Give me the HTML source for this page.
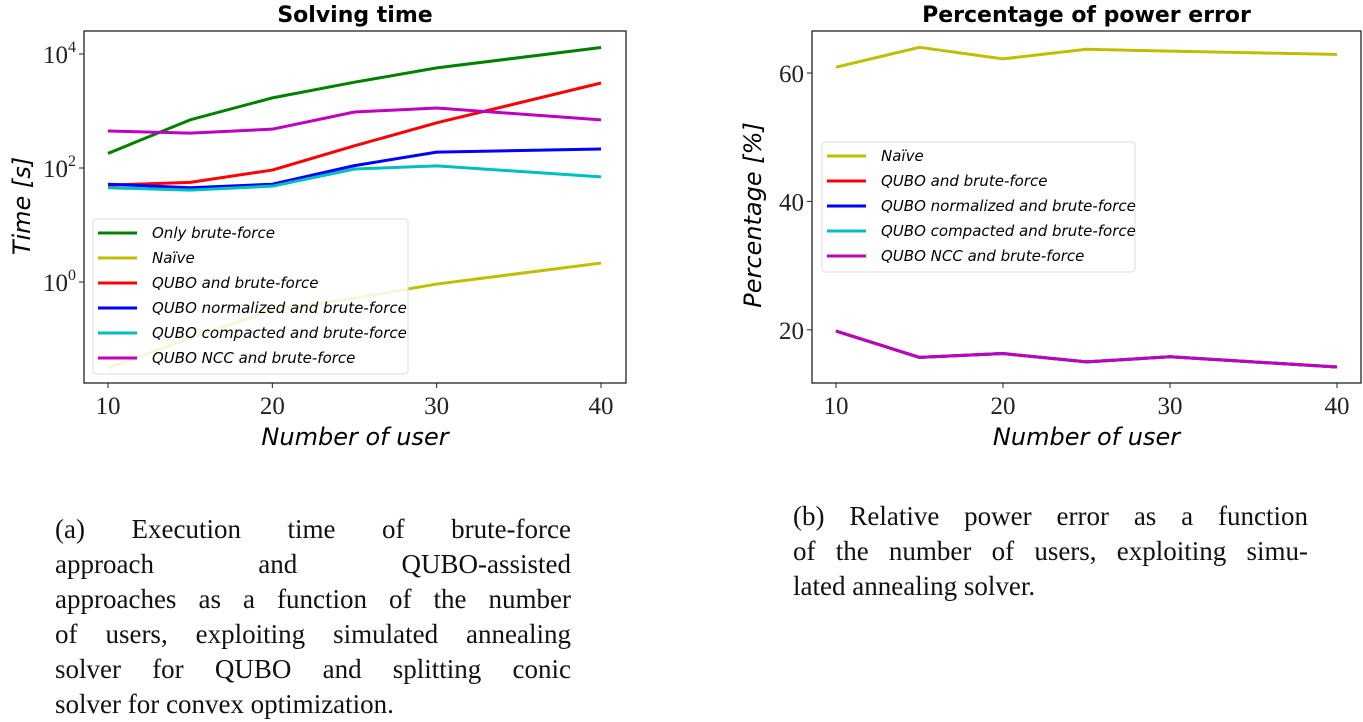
<!DOCTYPE html>
<html><head><meta charset="utf-8">
<style>
body{margin:0;background:#fff;width:1363px;height:722px;overflow:hidden;position:relative;font-family:"Liberation Serif",serif}
svg{position:absolute;left:0;top:0}
.cap{position:absolute;font-family:"Liberation Serif",serif;font-size:27px;color:#111;line-height:35px}
.cap div{text-align:justify;text-align-last:justify;white-space:nowrap;height:35px}
.cap div.last{text-align-last:left}
</style></head><body>
<svg id="svg" width="1363" height="722"></svg>
<div class="cap" style="left:55px;top:512px;width:516px">
<div>(a) Execution time of brute-force</div>
<div>approach and QUBO-assisted</div>
<div>approaches as a function of the number</div>
<div>of users, exploiting simulated annealing</div>
<div>solver for QUBO and splitting conic</div>
<div class="last">solver for convex optimization.</div>
</div>
<div class="cap" style="left:793px;top:499px;width:515px">
<div>(b) Relative power error as a function</div>
<div>of the number of users, exploiting simu-</div>
<div class="last">lated annealing solver.</div>
</div>
<script>
const users=[10,15,20,25,30,40];
const onlyBrute=[180,700,1700,3200,5700,13000];
const naiveTime=[0.031,0.104,0.32,0.52,0.92,2.15];
const quboTime=[50,56,92,245,620,3100];
const quboNormTime=[52,45,52,110,190,215];
const quboCompTime=[45,41,48,96,109,70];
const quboNccTime=[445,410,480,960,1130,700];
const naivePct=[60.9,64.0,62.2,63.7,63.4,62.9];
const quboPct=[19.8,15.7,16.3,15.0,15.8,14.2];
const quboNormPct=[19.8,15.7,16.3,15.0,15.8,14.2];
const quboCompPct=[19.8,15.7,16.3,15.0,15.8,14.2];
const quboNccPct=[19.8,15.7,16.3,15.0,15.8,14.2];
const xTicks=[10,20,30,40];
const logTicks=[0,2,4];
const pctTicks=[20,40,60];

const NS="http://www.w3.org/2000/svg";
const svg=document.getElementById('svg');
function mk(tag,attrs,parent,text){const e=document.createElementNS(NS,tag);for(const k in attrs)e.setAttribute(k,attrs[k]);if(text!==undefined)e.textContent=text;(parent||svg).appendChild(e);return e;}
const C={g:'#008000',y:'#bfbf00',r:'#ff0000',b:'#0000ff',c:'#00bfbf',m:'#bf00bf'};

function chart(o){
  const g=mk('g',{});
  
  
  const X=v=>o.x0+(v-10)/30*(o.x1-o.x0);
  const Y=o.Y;
  o.series.forEach(s=>{
    const p=mk('polyline',{points:users.map((u,i)=>X(u)+','+Y(s.v[i])).join(' '),fill:'none',stroke:s.c,'stroke-width':3,'stroke-linejoin':'round'},g);
    
    
  });
  const f=mk('rect',{x:o.bx0,y:o.by0,width:o.bx1-o.bx0,height:o.by1-o.by0,fill:'none',stroke:'#222','stroke-width':1.3},g);
  
  
  xTicks.forEach(t=>{
    mk('line',{x1:X(t),x2:X(t),y1:o.by1,y2:o.by1+5,stroke:'#222'},g);
    const l=mk('text',{x:X(t),y:o.by1+31,'text-anchor':'middle','font-size':25,'font-family':'Liberation Serif, serif',fill:'#222'},g,t);
    
    
  });
  o.yt.forEach(t=>{
    const y=o.tickY(t);
    mk('line',{x1:o.bx0-5,x2:o.bx0,y1:y,y2:y,stroke:'#222'},g);
    const l=mk('text',{x:o.bx0-8,y:y+9,'text-anchor':'end','font-size':25,'font-family':'Liberation Serif, serif',fill:'#222'},g);
    
    
    if(o.log){l.textContent='10';mk('tspan',{dy:-11,'font-size':16},l,t);}else l.textContent=t;
  });
  const ti=mk('text',{x:(o.bx0+o.bx1)/2,y:22,'text-anchor':'middle','font-size':22,'font-weight':'bold','font-family':'DejaVu Sans, sans-serif',fill:'#000'},g,o.title);
  
  
  const xl=mk('text',{x:(o.bx0+o.bx1)/2,y:445,'text-anchor':'middle','font-size':24,'font-style':'italic','font-family':'DejaVu Sans, sans-serif',fill:'#000'},g,'Number of user');
  
  
  const yl=mk('text',{x:0,y:0,transform:`translate(${o.ylx},${o.yly}) rotate(-90)`,'text-anchor':'middle','font-size':24,'font-style':'italic','font-family':'DejaVu Sans, sans-serif',fill:'#000'},g,o.ytitle);
  
  
  const L=o.leg;
  const lg=mk('g',{},g);
  
  
  mk('rect',{x:L.x0,y:L.y0,width:L.x1-L.x0,height:L.y1-L.y0,rx:3,fill:'#fff','fill-opacity':0.85,stroke:'#ddd'},lg);
  o.series.forEach((s,i)=>{
    const y=L.ey+i*25;
    const e=mk('g',{},lg);
    
    
    mk('line',{x1:L.x0+5,x2:L.x0+44,y1:y,y2:y,stroke:s.c,'stroke-width':3},e);
    mk('text',{x:L.x0+59,y:y+5,'font-size':15,'font-style':'italic','font-family':'DejaVu Sans, sans-serif',fill:'#000'},e,s.label);
  });
}
const logY=v=>282-57*Math.log10(v);
chart({name:'solving-time-chart',x0:108,x1:601,bx0:84,bx1:626,by0:31,by1:383,Y:logY,tickY:t=>282-57*t,log:true,yt:logTicks,
 title:'Solving time',ytitle:'Time [s]',ylx:30,yly:206,
 leg:{x0:93,x1:408,y0:219,y1:374,ey:233},
 series:[{id:'only-brute-force',c:C.g,v:onlyBrute,label:'Only brute-force'},
 {id:'naive',c:C.y,v:naiveTime,label:'Naïve'},
 {id:'qubo',c:C.r,v:quboTime,label:'QUBO and brute-force'},
 {id:'qubo-normalized',c:C.b,v:quboNormTime,label:'QUBO normalized and brute-force'},
 {id:'qubo-compacted',c:C.c,v:quboCompTime,label:'QUBO compacted and brute-force'},
 {id:'qubo-ncc',c:C.m,v:quboNccTime,label:'QUBO NCC and brute-force'}]});
const pY=v=>73+(60-v)*6.42;
chart({name:'power-error-chart',x0:836,x1:1337,bx0:812,bx1:1361,by0:31,by1:383,Y:pY,tickY:pY,log:false,yt:pctTicks,
 title:'Percentage of power error',ytitle:'Percentage [%]',ylx:761,yly:215,
 leg:{x0:822,x1:1135,y0:142,y1:272,ey:156},
 series:[{id:'naive',c:C.y,v:naivePct,label:'Naïve'},
 {id:'qubo',c:C.r,v:quboPct,label:'QUBO and brute-force'},
 {id:'qubo-normalized',c:C.b,v:quboNormPct,label:'QUBO normalized and brute-force'},
 {id:'qubo-compacted',c:C.c,v:quboCompPct,label:'QUBO compacted and brute-force'},
 {id:'qubo-ncc',c:C.m,v:quboNccPct,label:'QUBO NCC and brute-force'}]});
</script>
</body></html>
